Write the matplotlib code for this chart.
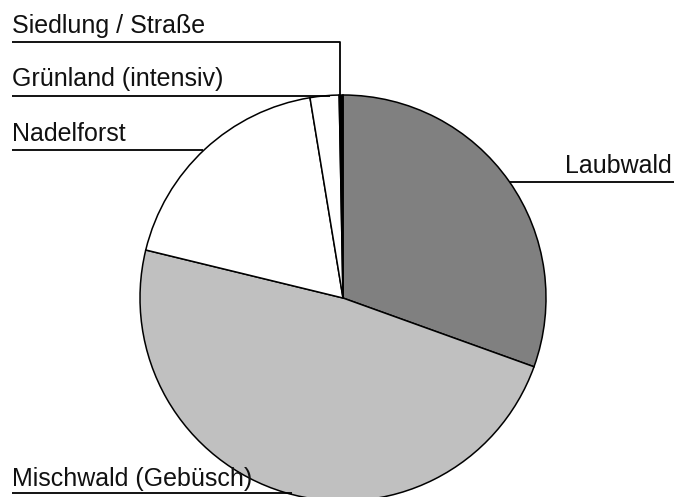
import matplotlib
matplotlib.use("Agg")
import matplotlib.pyplot as plt

categories = ["Laubwald", "Mischwald (Gebüsch)", "Nadelforst", "Grünland (intensiv)", "Siedlung / Straße"]
values = [30.5, 48.3, 18.6, 2.3, 0.3]
colors = ["#808080", "#c0c0c0", "#ffffff", "#ffffff", "#000000"]

plt.rcParams['font.family'] = ['Liberation Sans', 'DejaVu Sans']

W, H = 674, 497
fig = plt.figure(figsize=(W / 100, H / 100), dpi=100)
ax = fig.add_axes([0, 0, 1, 1])

cx, cy, r = 343, H - 298, 203
ax.pie(values, colors=colors, startangle=90, counterclock=False,
       center=(cx, cy), radius=r,
       wedgeprops=dict(edgecolor="black", linewidth=1.1), frame=True)

ax.set_xlim(0, W)
ax.set_ylim(0, H)
ax.set_aspect("equal")
ax.axis("off")

def Y(py):
    return H - py

fs = 18
lw = 1.3
# label layout: (text x, text baseline y, leader line points in pixel coords)
layout = {
    "Siedlung / Straße": (12, 33, [(12, 42), (340, 42), (340, 97)]),
    "Grünland (intensiv)": (12, 86, [(12, 96), (330, 96)]),
    "Nadelforst": (12, 141, [(12, 150), (203, 150)]),
    "Laubwald": (565, 173, [(510, 182), (674, 182)]),
    "Mischwald (Gebüsch)": (12, 486, [(12, 493), (292, 493)]),
}
for name in categories:
    tx, ty, pts = layout[name]
    ax.text(tx, Y(ty), name, fontsize=fs, ha="left", va="baseline", color="#111111")
    xs = [p[0] for p in pts]
    ys = [Y(p[1]) for p in pts]
    ax.plot(xs, ys, color="black", lw=lw, solid_capstyle="butt")

fig.savefig("out.png", dpi=100)
